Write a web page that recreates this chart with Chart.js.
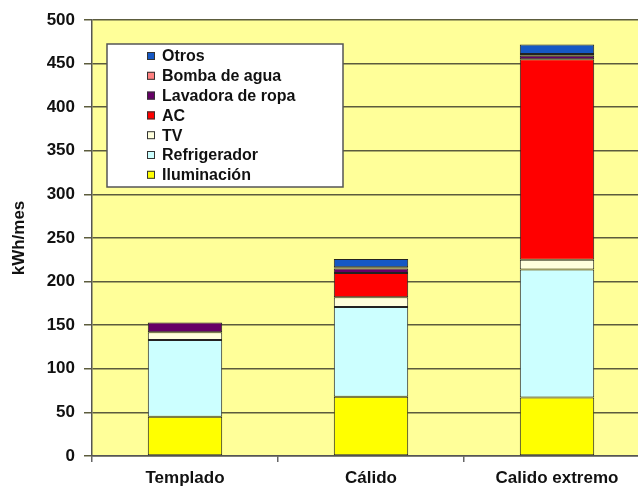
<!DOCTYPE html>
<html>
<head>
<meta charset="utf-8">
<script src="https://cdn.jsdelivr.net/npm/chart.js@4"></script>
<style>
  body { margin: 0; background: #fff; overflow: hidden; }
  #wrap { width: 650px; height: 488px; }
</style>
</head>
<body>
<div id="wrap"><canvas id="consumoChart"></canvas></div>
<script>
const categories = ['Templado', 'Cálido', 'Calido extremo'];
const seriesNames = ['Iluminación', 'Refrigerador', 'TV', 'AC', 'Lavadora de ropa', 'Bomba de agua', 'Otros'];
const iluminacion = [45, 68, 67];
const refrigerador = [88, 103, 147];
const tv = [9, 11, 11];
const ac = [0, 28, 230];
const lavadora = [11, 5, 4];
const bomba = [0, 1.5, 2];
const otros = [0, 9.5, 11];
const yTicks = [0, 50, 100, 150, 200, 250, 300, 350, 400, 450, 500];
const seriesColors = ['#FFFF00', '#CCFFFF', '#FFFFDD', '#FF0000', '#660066', '#FF8080', '#1558C4'];

const font = 'Arial, "Liberation Sans", sans-serif';
const allValues = [iluminacion, refrigerador, tv, ac, lavadora, bomba, otros];

// fondo amarillo solo en el area del grafico
const plotBg = {
  id: 'plotBg',
  beforeDraw(chart) {
    const { ctx, chartArea } = chart;
    ctx.save();
    ctx.fillStyle = '#FFFF99';
    ctx.fillRect(chartArea.left, chartArea.top, chartArea.right - chartArea.left, chartArea.bottom - chartArea.top);
    ctx.restore();
  }
};

// leyenda en caja dentro del area, orden invertido
const boxLegend = {
  id: 'boxLegend',
  afterDraw(chart) {
    const { ctx, chartArea } = chart;
    const x = chartArea.left + 15;
    const y = chartArea.top + 24;
    ctx.save();
    ctx.fillStyle = '#ffffff';
    ctx.fillRect(x, y, 236, 143);
    ctx.strokeStyle = '#555';
    ctx.lineWidth = 1.5;
    ctx.strokeRect(x, y, 236, 143);
    ctx.font = 'bold 16px ' + font;
    ctx.textBaseline = 'middle';
    chart.data.datasets.slice().reverse().forEach(function (ds, i) {
      const cy = y + 12 + i * 19.8;
      ctx.fillStyle = ds.backgroundColor;
      ctx.fillRect(x + 40, cy - 4, 8, 8);
      ctx.strokeStyle = '#333';
      ctx.lineWidth = 1;
      ctx.strokeRect(x + 40.5, cy - 3.5, 7, 7);
      ctx.fillStyle = '#111';
      ctx.fillText(ds.label, x + 55, cy + 1);
    });
    ctx.restore();
  }
};

const ctx = document.getElementById('consumoChart').getContext('2d');
const consumoChart = new Chart(ctx, {
  type: 'bar',
  data: {
    labels: categories,
    datasets: seriesNames.map(function (name, i) {
      return {
        label: name,
        data: allValues[i],
        backgroundColor: seriesColors[i],
        borderColor: '#222',
        borderWidth: 1,
        borderSkipped: false,
        barPercentage: 0.4,
        categoryPercentage: 1
      };
    })
  },
  options: {
    responsive: true,
    maintainAspectRatio: false,
    animation: false,
    layout: { padding: { left: 0, top: 20, right: 0, bottom: 0 } },
    plugins: {
      legend: { display: false },
      tooltip: { enabled: false }
    },
    scales: {
      x: {
        stacked: true,
        grid: { drawOnChartArea: false, tickLength: 6, color: '#666', lineWidth: 1.5 },
        border: { color: '#555', width: 1.5 },
        ticks: { color: '#111', padding: 6, font: { family: font, size: 17, weight: 'bold' } },
        afterFit: function (scale) { scale.height = 32; }
      },
      y: {
        stacked: true,
        min: 0,
        max: 500,
        afterBuildTicks: function (scale) { scale.ticks = yTicks.map(function (v) { return { value: v }; }); },
        grid: { color: '#5c5c3d', lineWidth: 1.5, tickLength: 8 },
        border: { color: '#555', width: 1.5 },
        ticks: { color: '#111', padding: 9, font: { family: font, size: 17, weight: 'bold' } },
        title: {
          display: true,
          text: 'kWh/mes',
          color: '#111',
          padding: 9,
          font: { family: font, size: 17, weight: 'bold' }
        },
        afterFit: function (scale) { scale.width = 92; }
      }
    }
  },
  plugins: [plotBg, boxLegend]
});
</script>
</body>
</html>
